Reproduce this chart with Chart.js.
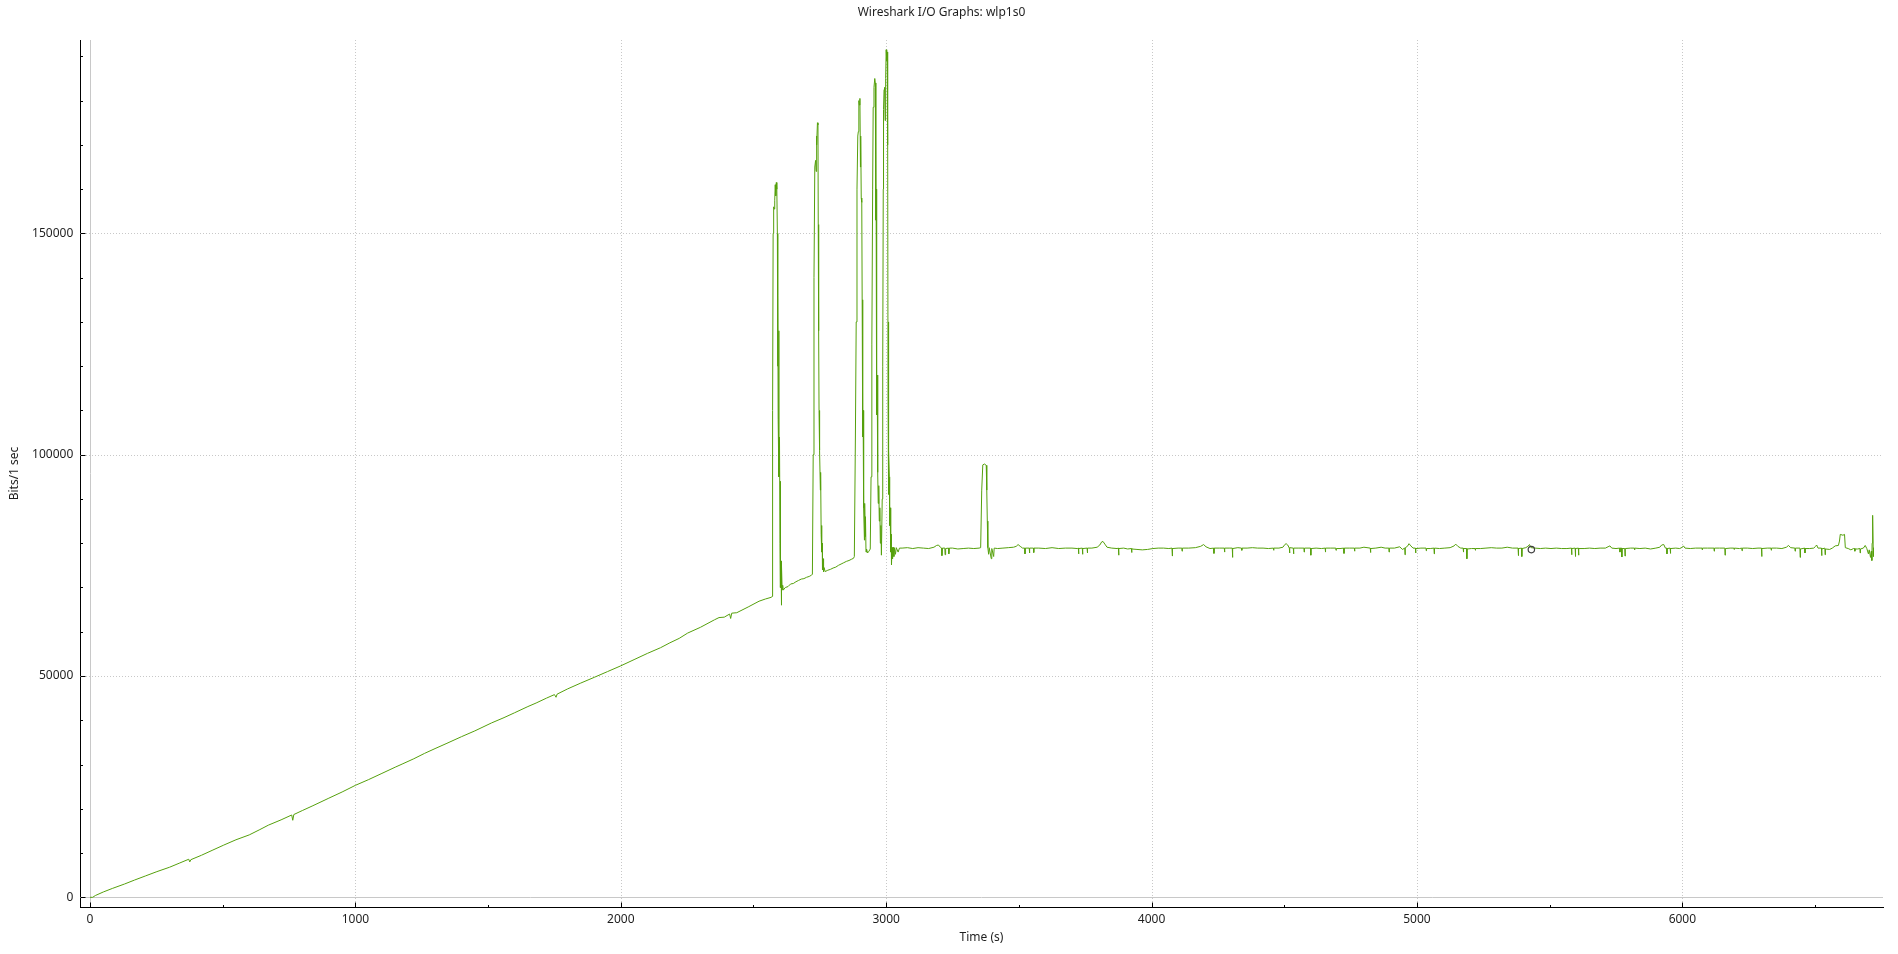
<!DOCTYPE html>
<html>
<head>
<meta charset="utf-8">
<title>Wireshark I/O Graphs: wlp1s0</title>
<script src="https://cdn.jsdelivr.net/npm/chart.js@4.4.1/dist/chart.umd.min.js"></script>
<style>
  html, body { margin: 0; padding: 0; background: #ffffff; }
  #wrap { width: 1898px; height: 954px; position: relative; }
</style>
</head>
<body>
<div id="wrap"><canvas id="c"></canvas></div>
<script>
// ---- data ----
const TITLE = 'Wireshark I/O Graphs: wlp1s0';
const X_LABEL = 'Time (s)';
const Y_LABEL = 'Bits/1 sec';

const X_TICKS = [0, 1000, 2000, 3000, 4000, 5000, 6000];
const X_MINOR = [500, 1500, 2500, 3500, 4500, 5500, 6500];
const Y_TICKS = [0, 50000, 100000, 150000];
const Y_MINOR = [10000, 20000, 30000, 40000, 60000, 70000, 80000, 90000,
                 110000, 120000, 130000, 140000, 160000, 170000, 180000, 190000];

// time (s) of each sample
const TIME_S = [
  // ramp
  0, 10, 20, 50, 84, 130, 168, 210, 252, 300,
  336, 372, 376, 380, 420, 460, 504, 550, 600, 640,
  672, 720, 760, 764, 768, 800, 840, 900, 950, 1000,
  1050, 1100, 1150, 1176, 1220, 1260, 1300, 1345, 1400, 1450,
  1513, 1560, 1600, 1650, 1681, 1720, 1750, 1756, 1760, 1800,
  1849, 1900, 1950, 2000, 2050, 2100, 2150, 2185, 2220, 2252,
  2300, 2353, 2370, 2390, 2410, 2414, 2418, 2437, 2480, 2521,
  // bursts
  2545, 2568, 2570, 2572, 2574, 2576, 2578, 2580, 2582, 2584,
  2586, 2588, 2590, 2591, 2592, 2593, 2595, 2596, 2598, 2600,
  2601, 2602, 2604, 2605, 2606, 2608, 2610, 2612, 2620, 2630,
  2640, 2650, 2660, 2670, 2680, 2690, 2700, 2710, 2719, 2722,
  2725, 2728, 2731, 2734, 2736, 2737, 2739, 2741, 2743, 2744,
  2745, 2746, 2747, 2748, 2750, 2752, 2753, 2755, 2756, 2758,
  2759, 2760, 2762, 2764, 2766, 2770, 2780, 2790, 2800, 2810,
  2820, 2830, 2840, 2850, 2860, 2870, 2877, 2880, 2884, 2887,
  2890, 2893, 2895, 2897, 2899, 2901, 2903, 2904, 2906, 2908,
  2910, 2911, 2912, 2913, 2914, 2915, 2916, 2918, 2919, 2921,
  2922, 2924, 2926, 2930, 2935, 2940, 2943, 2946, 2949, 2951,
  2954, 2957, 2959, 2961, 2962, 2963, 2965, 2966, 2968, 2970,
  2972, 2974, 2976, 2978, 2980, 2982, 2985, 2987, 2989, 2990,
  2992, 2994, 2996, 2998, 3000, 3002, 3004, 3005, 3006, 3007,
  3008, 3009, 3010, 3012, 3013, 3015, 3017, 3019, 3020, 3022,
  3024, 3026, 3029, 3031, 3035, 3038, 3045,
  // plateau
  3050, 3060, 3080, 3100, 3120, 3140, 3160, 3180, 3190, 3197,
  3204, 3209, 3210, 3212, 3221, 3222, 3224, 3235, 3236, 3238,
  3250, 3270, 3290, 3310, 3330, 3350, 3356, 3360, 3364, 3370,
  3377, 3379, 3381, 3383, 3386, 3388, 3396, 3398, 3405, 3407,
  3420, 3440, 3460, 3480, 3490, 3497, 3505, 3514, 3522, 3523,
  3524, 3539, 3540, 3541, 3555, 3556, 3557, 3575, 3600, 3625,
  3650, 3675, 3700, 3720, 3724, 3725, 3726, 3739, 3740, 3741,
  3757, 3758, 3759, 3775, 3795, 3805, 3812, 3817, 3824, 3832,
  3850, 3870, 3875, 3876, 3877, 3895, 3910, 3924, 3925, 3926,
  3945, 3965, 3985, 4005, 4025, 4045, 4065, 4077, 4078, 4079,
  4100, 4114, 4115, 4116, 4140, 4165, 4185, 4196, 4205, 4220,
  4234, 4235, 4236, 4255, 4274, 4275, 4276, 4295, 4304, 4305,
  4306, 4325, 4339, 4340, 4341, 4360, 4380, 4400, 4420, 4440,
  4459, 4460, 4461, 4480, 4495, 4502, 4507, 4513, 4519, 4520,
  4521, 4534, 4535, 4536, 4555, 4574, 4575, 4576, 4599, 4600,
  4601, 4620, 4640, 4654, 4655, 4656, 4675, 4694, 4695, 4696,
  4710, 4724, 4725, 4726, 4745, 4764, 4765, 4766, 4785, 4800,
  4824, 4825, 4826, 4845, 4865, 4880, 4894, 4895, 4896, 4915,
  4935, 4945, 4954, 4955, 4956, 4964, 4970, 4977, 4985, 4994,
  4995, 4996, 5015, 5034, 5035, 5036, 5050, 5064, 5065, 5066,
  5085, 5105, 5125, 5140, 5146, 5154, 5165, 5174, 5175, 5176,
  5187, 5188, 5189, 5205, 5219, 5220, 5221, 5240, 5260, 5280,
  5300, 5320, 5340, 5360, 5381, 5382, 5383, 5394, 5395, 5396,
  5410, 5418, 5424, 5430, 5445, 5465, 5485, 5505, 5525, 5545,
  5565, 5582, 5583, 5584, 5596, 5597, 5598, 5608, 5609, 5610,
  5630, 5650, 5670, 5690, 5710, 5720, 5727, 5734, 5750, 5764,
  5765, 5766, 5771, 5772, 5773, 5783, 5784, 5785, 5805, 5819,
  5820, 5821, 5840, 5860, 5880, 5900, 5915, 5922, 5930, 5936,
  5941, 5942, 5943, 5954, 5955, 5956, 5975, 5990, 6000, 6004,
  6010, 6030, 6050, 6074, 6075, 6076, 6095, 6119, 6120, 6121,
  6140, 6160, 6161, 6162, 6180, 6194, 6195, 6196, 6215, 6224,
  6225, 6226, 6245, 6265, 6285, 6298, 6299, 6300, 6320, 6334,
  6335, 6336, 6355, 6375, 6392, 6400, 6408, 6424, 6425, 6426,
  6443, 6444, 6445, 6461, 6462, 6463, 6480, 6495, 6502, 6506,
  6511, 6524, 6525, 6526, 6537, 6538, 6539, 6555, 6565, 6576,
  6588, 6592, 6595, 6605, 6611, 6614, 6625, 6635, 6645, 6649,
  6650, 6651, 6660, 6669, 6670, 6671, 6682, 6689, 6695, 6701,
  6704, 6709, 6712, 6714, 6715, 6716, 6717, 6718, 6719, 6720
];

// bits per 1-second interval, same order as TIME_S
const BITS_PER_SEC = [
  // ramp
  0, 0, 400, 1200, 2000, 3000, 3900, 4850, 5800, 6800,
  7700, 8600, 8000, 8500, 9500, 10600, 11800, 13000, 14100, 15300,
  16300, 17500, 18600, 17400, 18700, 19600, 20700, 22400, 23800, 25300,
  26600, 28000, 29400, 30100, 31300, 32500, 33600, 34800, 36300, 37600,
  39400, 40600, 41700, 43100, 43900, 45000, 45800, 45200, 45900, 47100,
  48400, 49700, 51000, 52300, 53700, 55100, 56400, 57500, 58500, 59700,
  61000, 62700, 63200, 63300, 64000, 63000, 64200, 64300, 65600, 66900,
  // bursts
  67400, 67800, 68000, 110000, 150000, 156000, 155500, 157500, 161000, 158500,
  161500, 160000, 150000, 120000, 136000, 108000, 128000, 95000, 104000, 80000,
  94000, 70000, 76000, 66000, 75000, 69500, 70500, 69400, 70000, 70200,
  70800, 70900, 71300, 71600, 71900, 72000, 72300, 72500, 72800, 73000,
  100000, 140000, 165000, 166500, 164000, 172000, 170000, 175000, 174500, 152000,
  144000, 128000, 110000, 106000, 101000, 92000, 96000, 82000, 84000, 78000,
  80000, 74000, 76500, 73500, 74500, 73600, 73900, 74100, 74400, 74600,
  75000, 75300, 75600, 75900, 76100, 76400, 76600, 77000, 104000, 130000,
  160000, 172000, 173000, 180000, 179000, 180500, 165000, 172000, 158000, 157000,
  127000, 135000, 104000, 110000, 92000, 98000, 88000, 80700, 89000, 81500,
  86000, 78000, 78700, 77800, 78200, 78700, 95000, 125000, 160000, 178500,
  183000, 185000, 184000, 153000, 160000, 128000, 109000, 118000, 96000, 89000,
  93000, 85000, 88000, 80000, 84000, 77300, 90000, 120000, 160000, 178000,
  182500, 183000, 175500, 185000, 191500, 189000, 191000, 170000, 175000, 112000,
  130000, 91000, 101000, 95000, 84000, 88000, 78000, 82000, 75100, 79000,
  76500, 79100, 77000, 78900, 77500, 79000, 78000,
  // plateau
  78900, 78900, 79000, 78800, 79000, 78900, 78800, 79100, 79500, 79600,
  79100, 78900, 77200, 78900, 78900, 77400, 78800, 78900, 77600, 78900,
  78900, 78700, 78800, 78900, 78800, 78900, 79000, 92000, 97700, 97900,
  97600, 92000, 85000, 79000, 77500, 79000, 76500, 78800, 77000, 78900,
  78800, 78900, 79000, 79100, 79300, 79700, 79300, 78900, 78900, 77600,
  78900, 78900, 77800, 78900, 78900, 77900, 78900, 78900, 78800, 79000,
  78800, 78900, 78900, 78800, 78900, 77600, 78800, 78900, 77500, 78800,
  78900, 77800, 78900, 78900, 79100, 79600, 80300, 80400, 79800, 79100,
  78900, 78800, 78900, 77300, 78800, 78900, 78700, 78800, 77900, 78700,
  78600, 78500, 78600, 78800, 78900, 78900, 78800, 78900, 77100, 78800,
  78900, 78900, 78200, 78900, 78900, 79000, 79300, 79700, 79200, 78800,
  78900, 77700, 78900, 78900, 78900, 78000, 78900, 78900, 78900, 76800,
  78800, 79000, 78900, 78400, 78900, 78900, 79000, 78900, 78900, 78800,
  78900, 78400, 78900, 78900, 79100, 79700, 79900, 79600, 78900, 77800,
  79000, 78900, 77600, 78900, 78900, 78900, 78000, 78900, 78900, 77300,
  78800, 78900, 78800, 78900, 78000, 78900, 78900, 78900, 78400, 78800,
  78800, 78900, 77700, 78900, 78900, 78900, 78200, 78900, 78900, 79100,
  78900, 77900, 78800, 78900, 79100, 78900, 78900, 78000, 78900, 78900,
  79200, 78600, 78900, 77400, 79000, 79300, 79900, 79400, 78900, 78900,
  77800, 78800, 78900, 78900, 78300, 78800, 78800, 78900, 77600, 78900,
  78800, 78900, 79000, 79400, 79800, 79300, 78900, 78900, 78000, 78800,
  78800, 76500, 78700, 78800, 78800, 78400, 78800, 78800, 78900, 79000,
  78900, 78900, 79100, 78900, 78900, 77200, 78800, 78900, 77000, 78800,
  79000, 79300, 79700, 79000, 78900, 78800, 78900, 78800, 78900, 78800,
  78800, 78900, 77400, 78800, 78900, 77000, 78800, 78900, 77300, 78800,
  78800, 78900, 78800, 78900, 78900, 79200, 79400, 78900, 78800, 78900,
  78000, 78900, 78900, 76900, 78800, 78800, 77100, 78800, 78900, 78900,
  78500, 78900, 78800, 78900, 78700, 78900, 79100, 79600, 79700, 78900,
  78900, 77600, 78800, 78900, 77700, 78800, 78900, 78800, 79100, 79400,
  78900, 78800, 78900, 78900, 78500, 78900, 78900, 78900, 78200, 78900,
  78900, 78900, 77300, 78800, 78900, 78900, 78600, 78900, 78800, 78900,
  78300, 78900, 78900, 78800, 78900, 78900, 77000, 78800, 78900, 78900,
  78400, 78900, 78900, 78800, 79100, 79500, 79000, 78900, 78200, 78900,
  78900, 76800, 78700, 78900, 77800, 78800, 78800, 78900, 79300, 79600,
  78900, 78900, 77200, 78700, 78900, 77400, 78700, 78600, 78900, 79400,
  79500, 80500, 82000, 81800, 82000, 79000, 78800, 78500, 78800, 78800,
  78200, 78700, 78700, 78800, 77800, 78700, 78900, 79500, 78800, 77600,
  78500, 76800, 78200, 76100, 80000, 86300, 81500, 86000, 79000, 77000
];

// selected-point marker shown in the reference
const MARKER_T = [5431];
const MARKER_V = [78560];

// ---- styling ----
const LINE_COLOR = '#55a00c';
const GRID_COLOR = '#c8c8c8';
const TEXT_COLOR = '#1e1e1e';

Chart.defaults.font.family = "'Noto Sans', 'Open Sans', sans-serif";
Chart.defaults.color = TEXT_COLOR;

const n = Math.min(TIME_S.length, BITS_PER_SEC.length);
const series = TIME_S.slice(0, n).map((t, i) => ({ x: t, y: BITS_PER_SEC[i] }));
const marker = MARKER_T.map((t, i) => ({ x: t, y: MARKER_V[i] }));

const axisDecor = {
  id: 'axisDecor',
  beforeDatasetsDraw(chart) {
    const { ctx, chartArea: a, scales: { x, y } } = chart;
    ctx.save();
    ctx.lineWidth = 1;
    ctx.strokeStyle = GRID_COLOR;
    for (const v of X_TICKS) {
      const px = Math.round(x.getPixelForValue(v)) + 0.5;
      ctx.setLineDash(v === 0 ? [] : [1, 2]);
      ctx.beginPath(); ctx.moveTo(px, a.top); ctx.lineTo(px, a.bottom); ctx.stroke();
    }
    for (const v of Y_TICKS) {
      const py = Math.round(y.getPixelForValue(v)) + 0.5;
      ctx.setLineDash(v === 0 ? [] : [1, 2]);
      ctx.beginPath(); ctx.moveTo(a.left, py); ctx.lineTo(a.right, py); ctx.stroke();
    }
    ctx.restore();
  },
  afterDraw(chart) {
    const { ctx, chartArea: a, scales: { x, y } } = chart;
    ctx.save();
    ctx.lineWidth = 1;
    ctx.strokeStyle = '#000000';
    ctx.setLineDash([]);
    const bx = Math.round(a.bottom) + 0.5;
    const lx = Math.round(a.left) + 0.5;
    const drawX = (vals, len) => {
      for (const v of vals) {
        const px = Math.round(x.getPixelForValue(v)) + 0.5;
        ctx.beginPath(); ctx.moveTo(px, bx); ctx.lineTo(px, bx - len); ctx.stroke();
      }
    };
    const drawY = (vals, len) => {
      for (const v of vals) {
        const py = Math.round(y.getPixelForValue(v)) + 0.5;
        ctx.beginPath(); ctx.moveTo(lx, py); ctx.lineTo(lx + len, py); ctx.stroke();
      }
    };
    drawX(X_TICKS, 5); drawX(X_MINOR, 2.5);
    drawY(Y_TICKS, 5); drawY(Y_MINOR, 2.5);
    ctx.restore();
  }
};

new Chart(document.getElementById('c'), {
  type: 'line',
  data: {
    datasets: [
      {
        data: series,
        borderColor: LINE_COLOR,
        borderWidth: 1,
        pointRadius: 0,
        pointHoverRadius: 0,
        tension: 0,
        fill: false,
        order: 2
      },
      {
        data: marker,
        showLine: false,
        pointRadius: 3.2,
        pointStyle: 'circle',
        borderColor: '#404040',
        borderWidth: 1.2,
        backgroundColor: 'rgba(0,0,0,0)',
        order: 1
      }
    ]
  },
  options: {
    responsive: true,
    maintainAspectRatio: false,
    devicePixelRatio: 1,
    animation: false,
    events: [],
    layout: { padding: { left: 0, right: 15, top: 0, bottom: 0 } },
    plugins: {
      legend: { display: false },
      tooltip: { enabled: false },
      title: {
        display: true,
        text: TITLE,
        color: TEXT_COLOR,
        font: { size: 12, weight: 'normal' },
        padding: { top: 5, bottom: 20.6 }
      }
    },
    scales: {
      x: {
        type: 'linear',
        position: 'bottom',
        min: -37.7,
        max: 6756,
        afterFit: s => { s.height = 47; },
        afterBuildTicks: s => { s.ticks = X_TICKS.map(v => ({ value: v })); },
        grid: { display: false, drawTicks: false },
        border: { display: true, color: '#000000', width: 1 },
        ticks: {
          autoSkip: false,
          maxRotation: 0,
          padding: 5,
          color: TEXT_COLOR,
          font: { size: 12 },
          callback: v => String(v)
        },
        title: {
          display: true,
          text: X_LABEL,
          color: TEXT_COLOR,
          font: { size: 12 },
          padding: { top: 0, bottom: 8.8 }
        }
      },
      y: {
        type: 'linear',
        position: 'left',
        min: -2190,
        max: 193700,
        afterFit: s => { s.width = 80; },
        afterBuildTicks: s => { s.ticks = Y_TICKS.map(v => ({ value: v })); },
        grid: { display: false, drawTicks: false },
        border: { display: true, color: '#000000', width: 1 },
        ticks: {
          autoSkip: false,
          padding: 6.7,
          color: TEXT_COLOR,
          font: { size: 12 },
          callback: v => String(v)
        },
        title: {
          display: true,
          text: Y_LABEL,
          color: TEXT_COLOR,
          font: { size: 12 },
          padding: { top: 7.5, bottom: 0 }
        }
      }
    }
  },
  plugins: [axisDecor]
});
</script>
</body>
</html>
